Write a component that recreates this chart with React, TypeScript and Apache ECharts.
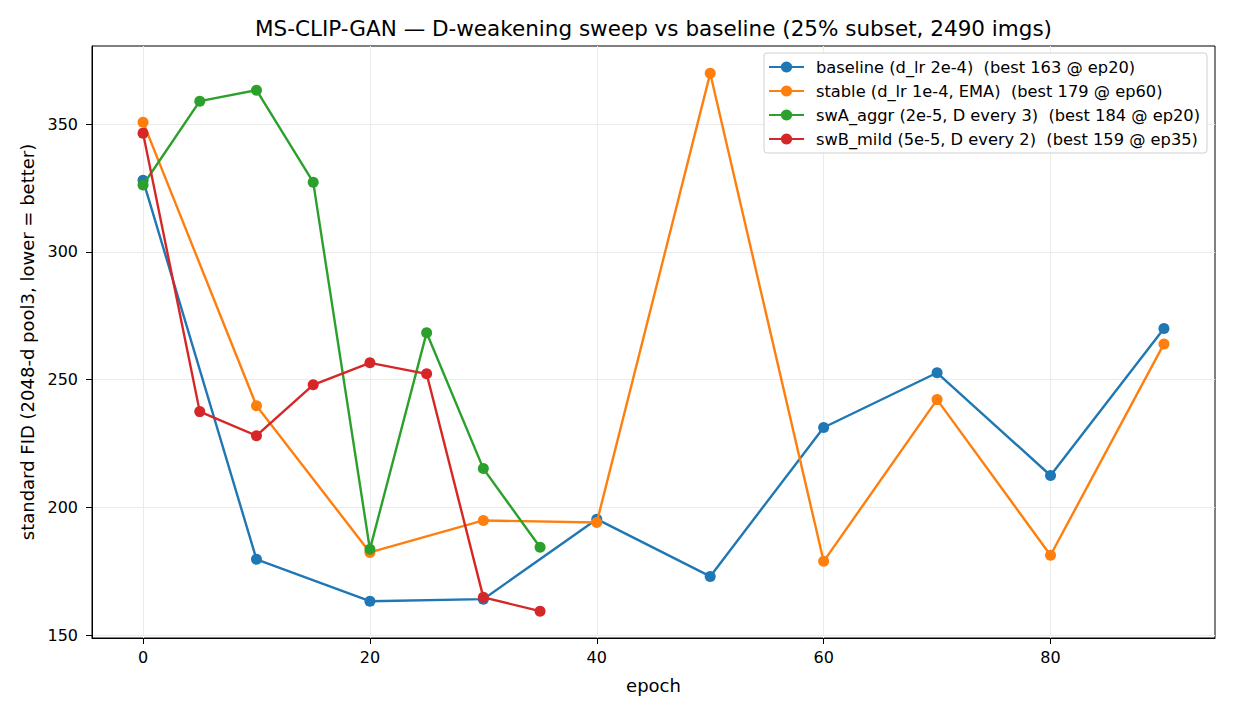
import React, { useEffect, useRef } from "react";
import * as echarts from "echarts";

const baselineEpochs = [0, 10, 20, 30, 40, 50, 60, 70, 80, 90];
const baselineFID = [328.1, 179.7, 163.3, 164.1, 195.4, 173.0, 231.3, 252.7, 212.5, 270.0];

const stableEpochs = [0, 10, 20, 30, 40, 50, 60, 70, 80, 90];
const stableFID = [350.8, 239.8, 182.4, 194.9, 194.1, 369.9, 178.9, 242.2, 181.3, 264.0];

const swAEpochs = [0, 5, 10, 15, 20, 25, 30, 35];
const swAFID = [326.2, 359.0, 363.3, 327.3, 183.6, 268.4, 215.2, 184.4];

const swBEpochs = [0, 5, 10, 15, 20, 25, 30, 35];
const swBFID = [346.5, 237.5, 228.1, 248.0, 256.6, 252.3, 164.8, 159.4];

const seriesNames = [
  "baseline (d_lr 2e-4)  (best 163 @ ep20)",
  "stable (d_lr 1e-4, EMA)  (best 179 @ ep60)",
  "swA_aggr (2e-5, D every 3)  (best 184 @ ep20)",
  "swB_mild (5e-5, D every 2)  (best 159 @ ep35)",
];
const seriesColors = ["#1f77b4", "#ff7f0e", "#2ca02c", "#d62728"];

const xTicks = [0, 20, 40, 60, 80];
const yTicks = [150, 200, 250, 300, 350];

const titleText = "MS-CLIP-GAN — D-weakening sweep vs baseline (25% subset, 2490 imgs)";
const xName = "epoch";
const yName = "standard FID (2048-d pool3, lower = better)";

const FONT = "DejaVu Sans";

export default function App() {
  const ref = useRef<HTMLDivElement>(null);
  useEffect(() => {
    if (!ref.current) return;
    const chart = echarts.init(ref.current, null, { renderer: "svg" });
    const all = [
      [baselineEpochs, baselineFID],
      [stableEpochs, stableFID],
      [swAEpochs, swAFID],
      [swBEpochs, swBFID],
    ];
    const series = all.map(([xs, ys], i) => ({
      name: seriesNames[i],
      type: "line",
      data: (xs as number[]).map((x, j) => [x, (ys as number[])[j]]),
      symbol: "circle",
      symbolSize: 11,
      lineStyle: { width: 2.4, color: seriesColors[i] },
      itemStyle: { color: seriesColors[i] },
      emphasis: { disabled: true },
      z: 2 + i,
    }));
    chart.setOption({
      animation: false,
      color: seriesColors,
      textStyle: { fontFamily: FONT },
      graphic: [
        {
          type: "text",
          x: 653.5,
          y: 28,
          style: {
            text: titleText,
            fontFamily: FONT,
            fontSize: 21.5,
            fill: "#000",
            textAlign: "center",
            textVerticalAlign: "middle",
          },
        },
      ],
      grid: {
        left: 92,
        right: 20,
        top: 46,
        bottom: 77,
        show: true,
        borderColor: "#000",
        borderWidth: 1,
        backgroundColor: "transparent",
      },
      legend: {
        orient: "vertical",
        right: 28,
        top: 53,
        itemWidth: 35,
        itemHeight: 14,
        itemGap: 8,
        padding: [6, 7, 6, 4],
        backgroundColor: "#fff",
        borderColor: "#d0d0d0",
        borderWidth: 1,
        borderRadius: 3,
        textStyle: { fontFamily: FONT, fontSize: 16.25, color: "#000", padding: [0, 0, 0, 7] },
        data: seriesNames,
      },
      xAxis: {
        type: "value",
        min: -4.5,
        max: 94.5,
        name: xName,
        nameLocation: "middle",
        nameGap: 38,
        nameTextStyle: { fontFamily: FONT, fontSize: 18, color: "#000" },
        axisLine: { show: true, onZero: false, lineStyle: { color: "#000", width: 1 } },
        axisTick: { show: true, inside: false, length: 6, customValues: xTicks, lineStyle: { color: "#000" } },
        axisLabel: { customValues: xTicks, fontFamily: FONT, fontSize: 16, color: "#000", margin: 11 },
        splitLine: { show: true, lineStyle: { color: "#ebebeb", width: 1 } },
      },
      yAxis: {
        type: "value",
        min: 148.9,
        max: 380.6,
        name: yName,
        nameLocation: "middle",
        nameGap: 55,
        nameRotate: 90,
        nameTextStyle: { fontFamily: FONT, fontSize: 18, color: "#000" },
        axisLine: { show: true, onZero: false, lineStyle: { color: "#000", width: 1 } },
        axisTick: { show: true, inside: false, length: 6, customValues: yTicks, lineStyle: { color: "#000" } },
        axisLabel: { customValues: yTicks, fontFamily: FONT, fontSize: 16, color: "#000", margin: 14 },
        splitLine: { show: true, lineStyle: { color: "#ebebeb", width: 1 } },
      },
      series,
    });
    return () => chart.dispose();
  }, []);
  return (
    <div
      ref={ref}
      style={{ position: "fixed", left: 0, top: 0, width: 1235, height: 715, background: "#fff" }}
    />
  );
}
